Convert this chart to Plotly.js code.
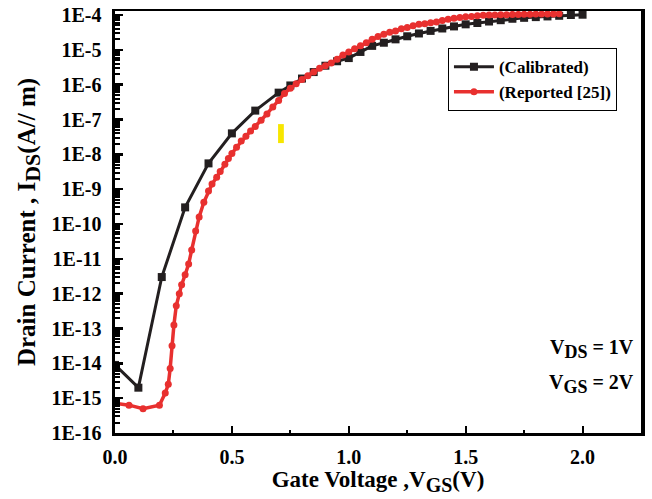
<!DOCTYPE html>
<html>
<head>
<meta charset="utf-8">
<script src="https://cdn.plot.ly/plotly-3.0.1.min.js"></script>
<style>html,body{margin:0;padding:0;background:#fff;}#chart{width:652px;height:499px;}</style>
</head>
<body>
<div id="chart"></div>
<script>
// Calibrated series
const calibratedVgs = [0.0, 0.1, 0.2, 0.3, 0.4, 0.5, 0.6, 0.7, 0.75, 0.8, 0.85, 0.9, 0.95, 1.0, 1.05, 1.1, 1.15, 1.2, 1.25, 1.3, 1.35, 1.4, 1.45, 1.5, 1.55, 1.6, 1.65, 1.7, 1.75, 1.8, 1.85, 1.9, 1.95, 2.0];
const calibratedIds = [9e-15, 2e-15, 3e-12, 3e-10, 5.5e-9, 4e-8, 1.8e-7, 5.9e-7, 9.5e-7, 1.5e-6, 2.3e-6, 3.5e-6, 4.7e-6, 5.8e-6, 8.7e-6, 1.3e-5, 1.6e-5, 2e-5, 2.45e-5, 2.95e-5, 3.5e-5, 4.1e-5, 4.7e-5, 5.4e-5, 5.9e-5, 6.5e-5, 7.1e-5, 7.8e-5, 8.3e-5, 8.7e-5, 9.1e-5, 9.5e-5, 1e-4, 1.02e-4];

// Reported [25] series
const reportedVgs = [0.0, 0.06, 0.12, 0.19, 0.215, 0.228, 0.236, 0.244, 0.252, 0.262, 0.275, 0.285, 0.3, 0.315, 0.328, 0.345, 0.36, 0.38, 0.4, 0.415, 0.435, 0.45, 0.47, 0.485, 0.5, 0.52, 0.54, 0.56, 0.58, 0.6, 0.625, 0.65, 0.675, 0.7, 0.725, 0.75, 0.775, 0.8, 0.825, 0.85, 0.875, 0.9, 0.925, 0.95, 0.975, 1.0, 1.025, 1.05, 1.075, 1.1, 1.125, 1.15, 1.175, 1.2, 1.225, 1.25, 1.275, 1.3, 1.325, 1.35, 1.375, 1.4, 1.425, 1.45, 1.475, 1.5, 1.525, 1.55, 1.575, 1.6, 1.625, 1.65, 1.675, 1.7, 1.725, 1.75, 1.775, 1.8, 1.825, 1.85, 1.875, 1.9];
const reportedIds = [7.1e-16, 6.3e-16, 5e-16, 6.3e-16, 1.4e-15, 2.5e-15, 7.1e-15, 3.2e-14, 1.26e-13, 4.5e-13, 1e-12, 1.8e-12, 3.5e-12, 7.1e-12, 1.8e-11, 6.3e-11, 1.6e-10, 4.2e-10, 8.9e-10, 1.4e-9, 2.2e-9, 3.2e-9, 5.2e-9, 7.6e-9, 1.05e-8, 1.6e-8, 2.4e-8, 3.3e-8, 4.7e-8, 6.3e-8, 9.5e-8, 1.45e-7, 2.3e-7, 3.5e-7, 5.6e-7, 7.9e-7, 1.07e-6, 1.4e-6, 1.8e-6, 2.3e-6, 2.95e-6, 3.5e-6, 4.2e-6, 5.4e-6, 7.1e-6, 8.7e-6, 1.07e-5, 1.3e-5, 1.6e-5, 2e-5, 2.4e-5, 2.8e-5, 3.2e-5, 3.5e-5, 4e-5, 4.4e-5, 4.9e-5, 5.4e-5, 5.6e-5, 6e-5, 6.3e-5, 6.9e-5, 7.6e-5, 8.1e-5, 8.5e-5, 8.9e-5, 9.1e-5, 9.5e-5, 9.8e-5, 1e-4, 1e-4, 1.02e-4, 1.02e-4, 1.04e-4, 1.04e-4, 1.05e-4, 1.05e-4, 1.06e-4, 1.06e-4, 1.07e-4, 1.07e-4, 1.08e-4];

const seriesNames = ["(Calibrated)", "(Reported [25])"];
const yTickVals = [1e-16, 1e-15, 1e-14, 1e-13, 1e-12, 1e-11, 1e-10, 1e-9, 1e-8, 1e-7, 1e-6, 1e-5, 1e-4];
const yTickText = ["1E-16", "1E-15", "1E-14", "1E-13", "1E-12", "1E-11", "1E-10", "1E-9", "1E-8", "1E-7", "1E-6", "1E-5", "1E-4"];
const xTickVals = [0.0, 0.5, 1.0, 1.5, 2.0];
const xTickText = ["0.0", "0.5", "1.0", "1.5", "2.0"];

const yMinor = [];
for (let e = -16; e < -4; e++) for (let m = 2; m <= 9; m++) yMinor.push(m * Math.pow(10, e));

const serif = "Liberation Serif, Times New Roman, serif";

const traces = [
  {
    x: calibratedVgs, y: calibratedIds, name: seriesNames[0], type: "scatter", mode: "lines+markers",
    line: {color: "#231f20", width: 3}, marker: {symbol: "square", size: 8, color: "#231f20"}
  },
  {
    x: reportedVgs, y: reportedIds, name: seriesNames[1], type: "scatter", mode: "lines+markers",
    line: {color: "#e8302f", width: 3.5}, marker: {symbol: "circle", size: 7, color: "#e8302f"}
  }
];

const layout = {
  width: 652, height: 499,
  margin: {l: 115, r: 11, t: 11, b: 66},
  paper_bgcolor: "#fff", plot_bgcolor: "#fff",
  showlegend: true,
  legend: {
    x: 0.633, y: 0.912, xanchor: "left", yanchor: "top",
    bordercolor: "#000", borderwidth: 1, bgcolor: "#fff",
    font: {family: serif, size: 17, color: "#000", weight: "bold"},
    tracegroupgap: 0, itemwidth: 40
  },
  xaxis: {
    range: [0, 2.25], tickmode: "array", tickvals: xTickVals, ticktext: xTickText,
    ticks: "inside", ticklen: 7, tickwidth: 2, tickcolor: "#000",
    minor: {tickvals: [0.25, 0.75, 1.25, 1.75], ticks: "inside", ticklen: 3, tickwidth: 2, tickcolor: "#000"},
    showline: true, linecolor: "#000", linewidth: 2.5, mirror: true,
    showgrid: false, zeroline: false, ticklabelstandoff: 4,
    tickfont: {family: serif, size: 20, color: "#000", weight: "bold"},
    title: {text: "Gate Voltage ,V<sub><span style='font-size:20px'>GS</span></sub>(V)", standoff: 4, font: {family: serif, size: 23, color: "#000", weight: "bold"}}
  },
  yaxis: {
    type: "log", range: [-16, -3.885], tickmode: "array", tickvals: yTickVals, ticktext: yTickText,
    ticks: "inside", ticklen: 8, tickwidth: 2.5, tickcolor: "#000",
    minor: {tickvals: yMinor, ticks: "inside", ticklen: 5, tickwidth: 2, tickcolor: "#000"},
    showline: true, linecolor: "#000", linewidth: 3.5, mirror: true,
    showgrid: false, zeroline: false, ticklabelstandoff: 6,
    tickfont: {family: serif, size: 20, color: "#000", weight: "bold"},
    title: {text: "Drain Current , I<sub><span style='font-size:22px'>DS</span></sub>(A// m)", standoff: 10, font: {family: serif, size: 25, color: "#000", weight: "bold"}}
  },
  annotations: [
    {xref: "paper", yref: "paper", x: 0.991, y: 0.2, xanchor: "right", yanchor: "middle", showarrow: false,
     text: "V<sub><span style='font-size:18px'>DS</span></sub> = 1V", font: {family: serif, size: 20, color: "#000", weight: "bold"}},
    {xref: "paper", yref: "paper", x: 0.991, y: 0.115, xanchor: "right", yanchor: "middle", showarrow: false,
     text: "V<sub><span style='font-size:18px'>GS</span></sub> = 2V", font: {family: serif, size: 20, color: "#000", weight: "bold"}}
  ],
  shapes: [
    {type: "rect", xref: "paper", yref: "paper", x0: 0.31, x1: 0.321, y0: 0.687, y1: 0.732,
     fillcolor: "#f7e600", line: {width: 0}}
  ]
};

Plotly.newPlot("chart", traces, layout, {displayModeBar: false, staticPlot: true});
</script>
</body>
</html>
